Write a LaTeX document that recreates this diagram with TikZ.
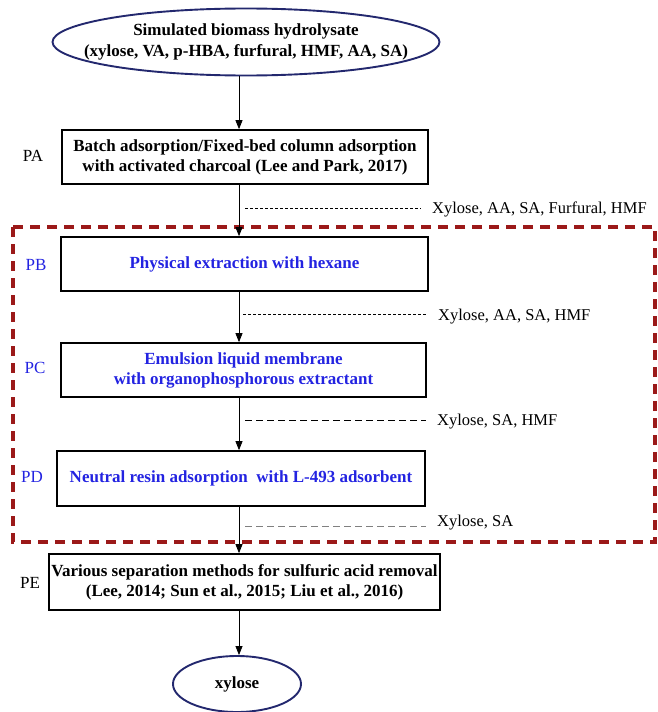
\documentclass[tikz,border=0pt]{standalone}
\usepackage{fontspec}
\setmainfont{Liberation Serif}
\usetikzlibrary{shapes.geometric,arrows.meta}
\definecolor{navy}{RGB}{35,40,110}
\definecolor{darkred}{RGB}{155,25,25}
\definecolor{stepblue}{RGB}{35,35,225}

\begin{document}
\begin{tikzpicture}[x=1pt, y=-1pt,
  oval/.style={ellipse, draw=navy, line width=1.9pt, inner sep=0pt},
  box/.style={draw, line width=1.7pt, align=center, inner sep=0pt, font=\fontsize{17}{20}\selectfont\bfseries},
  tag/.style={font=\fontsize{17}{20}\selectfont},
  note/.style={anchor=west, inner sep=0pt, font=\fontsize{16.5}{20}\selectfont},
  flow/.style={-{Triangle[length=9pt,width=7pt]}, line width=0.8pt},
  cut/.style={line width=0.6pt, dash pattern=on 3pt off 2pt, shorten >=11pt},
  frame/.style={darkred, line width=3.1pt, dash pattern=on 10pt off 7pt}]
  \useasboundingbox (0,0) rectangle (657,712);
  % start and end
  \node [oval, minimum width=387, minimum height=67,
    label={[align=center, font=\fontsize{17}{21}\selectfont\bfseries]center:Simulated biomass hydrolysate\\(xylose, VA, p-HBA, furfural, HMF, AA, SA)}] (feed) at (246,42) {};
  \node [oval, minimum width=128, minimum height=56, font=\fontsize{17}{20}\selectfont\bfseries] (xyl) at (237,684) {xylose};
  % steps
  \node [box, minimum width=366, minimum height=54] (pa) at (245,157) {Batch adsorption/Fixed-bed column adsorption\\with activated charcoal (Lee and Park, 2017)};
  \node [box, minimum width=367, minimum height=54, text=stepblue] (pb) at (244.5,264) {Physical extraction with hexane};
  \node [box, minimum width=365, minimum height=54, text=stepblue] (pc) at (243.5,370) {Emulsion liquid membrane\\with organophosphorous extractant};
  \node [box, minimum width=368, minimum height=55, text=stepblue] (pd) at (241,478.5) {Neutral resin adsorption\ \ with L-493 adsorbent};
  \node [box, minimum width=391, minimum height=56] (pe) at (244.5,582) {Various separation methods for sulfuric acid removal\\(Lee, 2014; Sun et al., 2015; Liu et al., 2016)};
  \node [tag] (ta) at (33,156) {PA};
  \node [tag, text=stepblue] (tb) at (36,265) {PB};
  \node [tag, text=stepblue] (tc) at (35,368) {PC};
  \node [tag, text=stepblue] (td) at (32,477) {PD};
  \node [tag] (te) at (30,583) {PE};
  % what is left after each step
  \node [note] (ra) at (432,209) {Xylose, AA, SA, Furfural, HMF};
  \node [note] (rb) at (438,317) {Xylose, AA, SA, HMF};
  \node [note] (rc) at (437,422) {Xylose, SA, HMF};
  \node [note] (rd) at (437,523) {Xylose, SA};
  \coordinate (ca) at (245,208);
  \coordinate (cb) at (243,314);
  \coordinate (cc) at (245,420);
  \coordinate (cd) at (245,526);
  \draw [cut] (ca) -- (ca -| ra.west);
  \draw [cut] (cb) -- (cb -| rb.west);
  \draw [cut, dash pattern=on 7pt off 4pt] (cc) -- (cc -| rc.west);
  \draw [cut, gray, dash pattern=on 7pt off 4pt] (cd) -- (cd -| rd.west);
  \draw [frame] (13,227) rectangle (655,542);
  % flow
  \coordinate (axis) at (239,0);
  \draw [flow] (feed.south -| axis) -- (pa.north -| axis);
  \draw [flow] (pa.south -| axis) -- (pb.north -| axis);
  \draw [flow] (pb.south -| axis) -- (pc.north -| axis);
  \draw [flow] (pc.south -| axis) -- (pd.north -| axis);
  \draw [flow] (pd.south -| axis) -- (pe.north -| axis);
  \draw [flow] (pe.south -| axis) -- (xyl.north -| axis);
\end{tikzpicture}
\end{document}
